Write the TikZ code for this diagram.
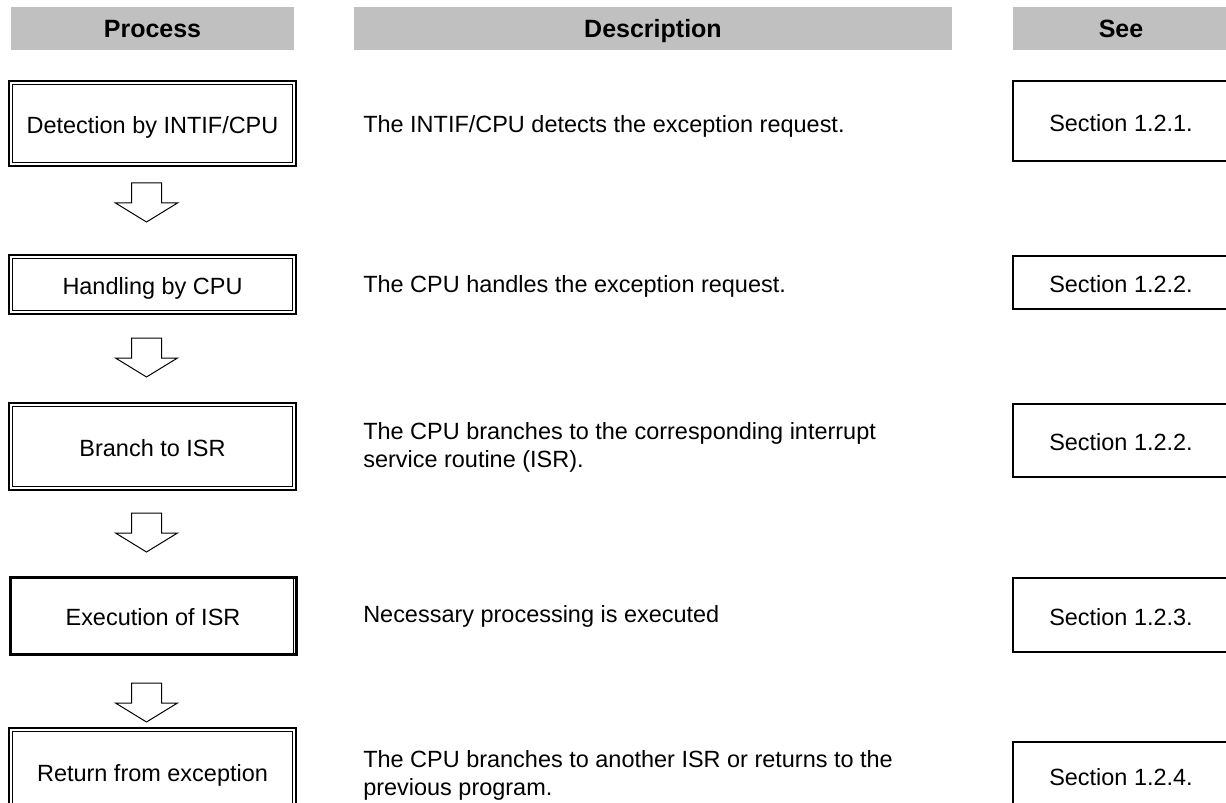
\documentclass[tikz,border=0pt]{standalone}
\usepackage{fontspec}
\setmainfont{Liberation Sans}
\usetikzlibrary{calc}
\definecolor{hdrgray}{RGB}{192,192,192}
\begin{document}
\begin{tikzpicture}[x=0.75pt,y=-0.75pt,
  hdr/.style={fill=hdrgray, draw=none, inner sep=0pt, minimum height=32.25pt,
    text height=17pt, text depth=3pt,
    font=\fontsize{18.75}{22}\selectfont\bfseries},
  txt/.style={font=\fontsize{17.6}{21}\selectfont},
  procbox/.style={txt, text height=18.6pt, text depth=3pt, draw, line width=1.5pt, inner sep=0pt, minimum width=215.25pt},
  innerline/.style={line width=0.75pt},
  seebox/.style={txt, text height=18.6pt, text depth=3pt, draw, line width=1.5pt, inner sep=0pt, minimum width=162pt},
  desc/.style={txt, anchor=west, align=left, inner sep=0pt},
  blockarrow/.style={draw, line width=0.75pt, line join=miter, fill=white}
]
\useasboundingbox (0,0) rectangle (1226,802);
\clip (0,0) rectangle (1226,802);

% headers
\node[hdr, minimum width=212.25pt] (hp) at (152.5,28.5) {Process};
\node[hdr, minimum width=448.5pt] (hd) at (653,28.5) {Description};
\node[hdr, minimum width=162pt] (hs) at (1121,28.5) {See};

% process boxes
\node[procbox, minimum height=63.75pt] (p1) at (152.5,123.5) {Detection by INTIF/CPU};
\node[procbox, minimum height=44.25pt] (p2) at (152.5,284.5) {Handling by CPU};
\node[procbox, minimum height=65.25pt] (p3) at (152.5,446.5) {Branch to ISR};
\node[procbox, line width=2.25pt, minimum width=214.5pt, minimum height=57.75pt] (p4) at (153,615.5) {Execution of ISR};
\node[procbox, minimum height=64.5pt] (p5) at (152.5,771) {Return from exception};

\foreach \n in {p1,p2,p3,p5}{
  \draw[innerline] ($(\n.north west)+(4.5,4.5)$) rectangle ($(\n.south east)+(-4.5,-4.5)$);
}
\draw[innerline] ($(p4.north east)+(-4,2)$) -- ($(p4.south east)+(-4,-2)$);

% block arrows
\coordinate (a1) at (146.5,183);
\coordinate (a2) at (146.5,338);
\coordinate (a3) at (146.5,513);
\coordinate (a4) at (146.5,683);
\foreach \a in {a1,a2,a3,a4}{
  \draw[blockarrow] ($(\a)+(-15,0)$) -- ++(30,0) -- ++(0,20) -- ++(16,0)
    -- ++(-31,19) -- ++(-31,-19) -- ++(16,0) -- cycle;
}

% descriptions
\node[desc] (d1) at (363,126) {The INTIF/CPU detects the exception request.};
\node[desc] (d2) at (363,286) {The CPU handles the exception request.};
\node[desc] (d3) at (363,447) {The CPU branches to the corresponding interrupt\\service routine (ISR).};
\node[desc] (d4) at (363,616) {Necessary processing is executed};
\node[desc] (d5) at (363,775.5) {The CPU branches to another ISR or returns to the\\previous program.};

% see boxes
\node[seebox, minimum height=60pt] (s1) at (1121,121) {Section 1.2.1.};
\node[seebox, minimum height=39.75pt] (s2) at (1121,282.5) {Section 1.2.2.};
\node[seebox, minimum height=54.75pt] (s3) at (1121,440.5) {Section 1.2.2.};
\node[seebox, minimum height=55.5pt] (s4) at (1121,615) {Section 1.2.3.};
\node[seebox, minimum height=49.5pt] (s5) at (1121,775) {Section 1.2.4.};
\end{tikzpicture}
\end{document}
